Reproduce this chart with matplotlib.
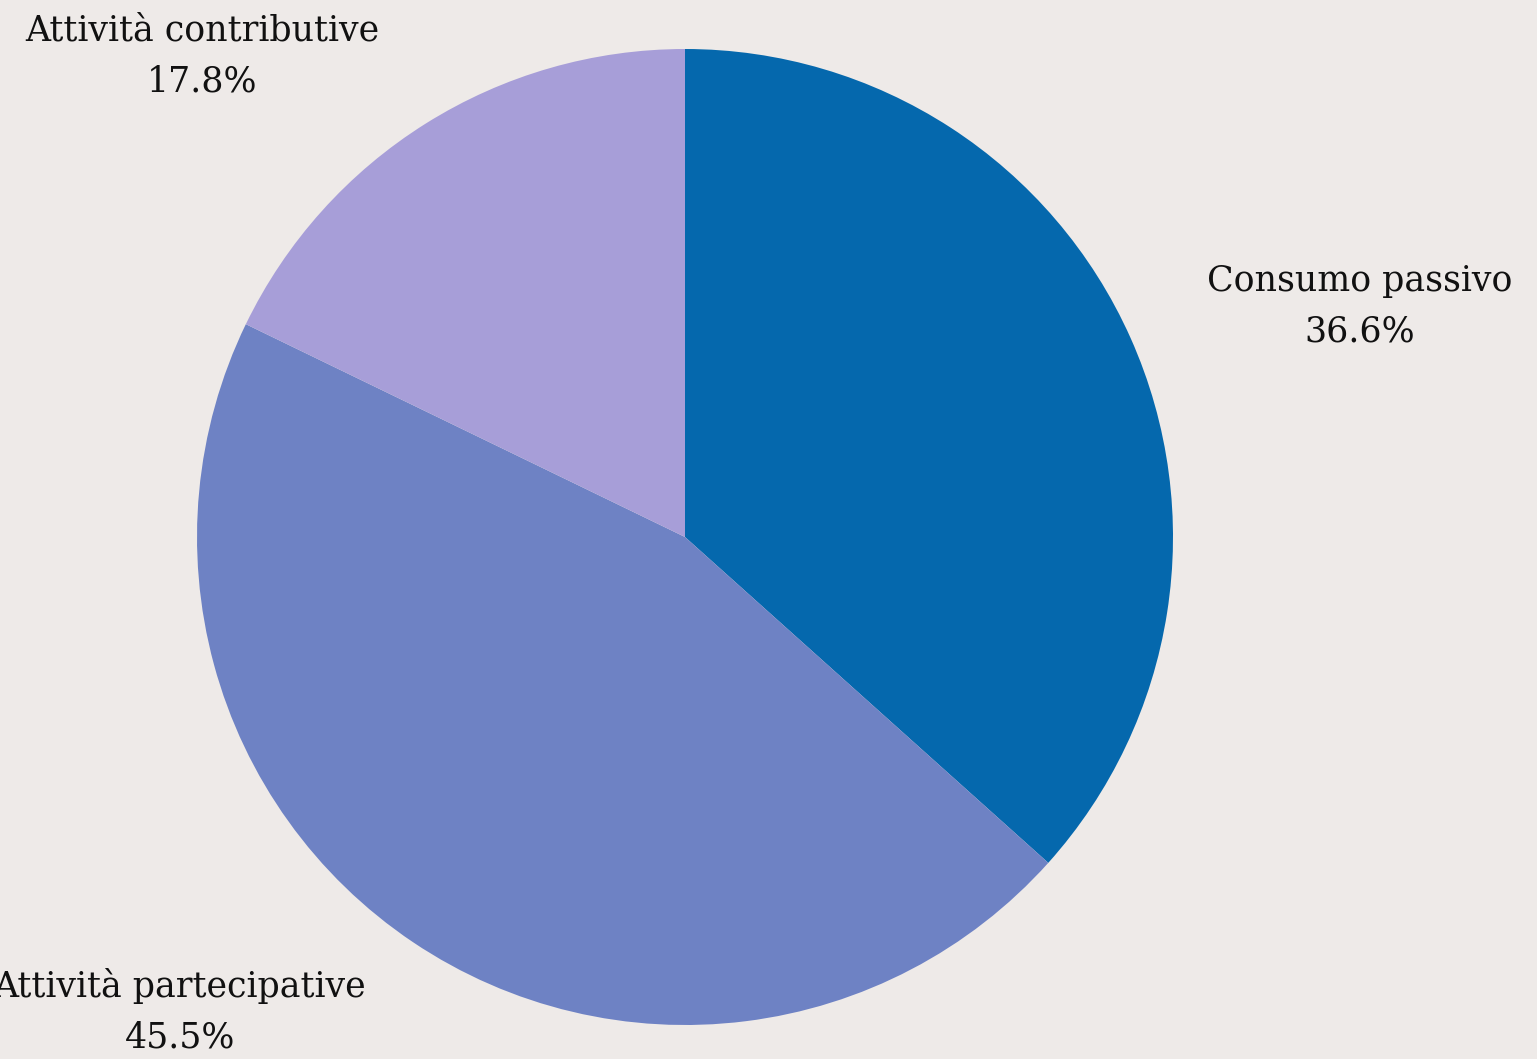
import matplotlib
matplotlib.use("Agg")
import matplotlib.pyplot as plt

labels = ["Consumo passivo", "Attività partecipative", "Attività contributive"]
shares = [36.6, 45.5, 17.8]
colors = ["#0568AD", "#6E82C4", "#A79ED8"]

BG = "#EEEAE8"
W, H = 1537, 1059
cx, cy, r = 685, 537, 488  # pie centre and radius in pixels

fig = plt.figure(figsize=(W / 100, H / 100), dpi=100, facecolor=BG)
ax = fig.add_axes([(cx - r) / W, (H - cy - r) / H, 2 * r / W, 2 * r / H])
ax.set_facecolor(BG)

ax.pie(shares, colors=colors, startangle=90, counterclock=False,
       radius=1, wedgeprops=dict(linewidth=0))
ax.set_xlim(-1, 1)
ax.set_ylim(-1, 1)
ax.set_aspect("equal")
ax.axis("off")

# label centres in pixel coords, converted to data units
label_px = [(1360, 306), (180, 1011), (202, 56)]
for lab, val, (px, py) in zip(labels, shares, label_px):
    x = (px - cx) / r
    y = (cy - py) / r
    ax.text(x, y, f"{lab}\n{val:.1f}%", ha="center", va="center",
            fontsize=25, family="DejaVu Serif", color="#111111",
            linespacing=1.6, clip_on=False)

fig.savefig("out.png", dpi=100, facecolor=BG)
